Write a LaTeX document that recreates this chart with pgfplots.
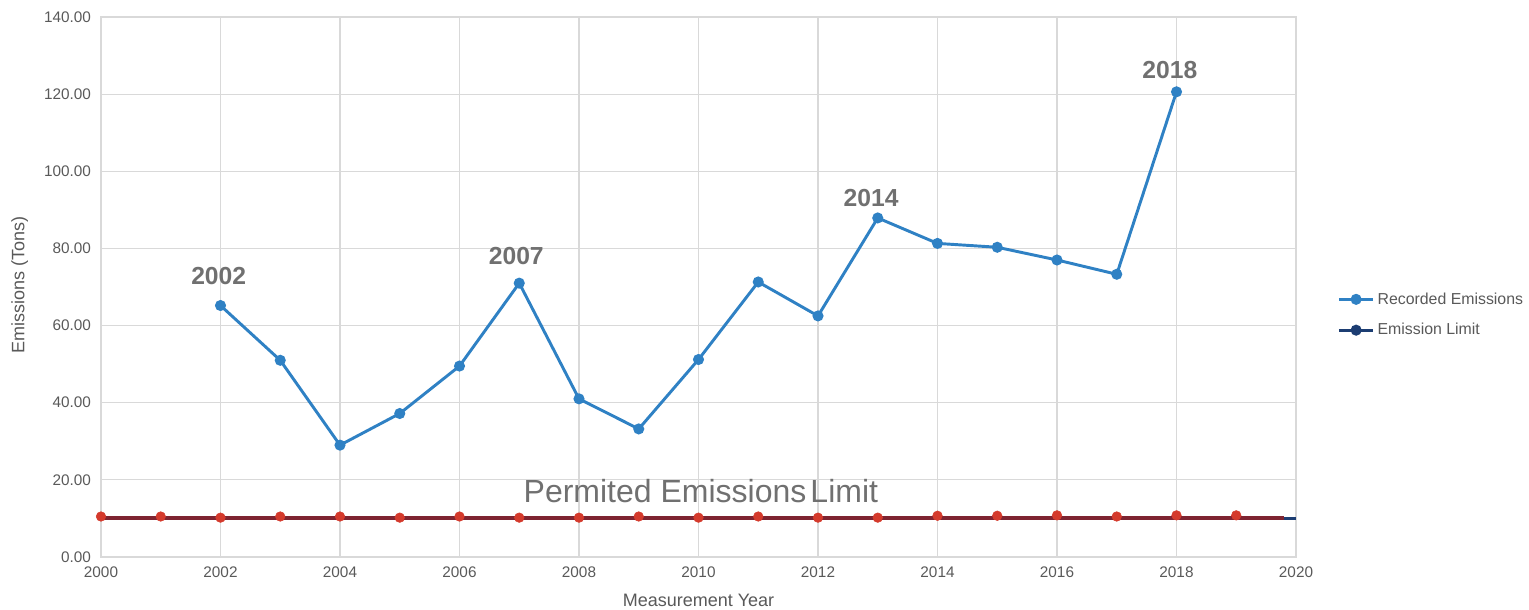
\documentclass[border=0pt]{standalone}
\usepackage{pgfplots}
\pgfplotsset{compat=1.18}
\usepackage{fontspec}
\setmainfont{Liberation Sans}

\definecolor{recblue}{HTML}{2F81C4}
\definecolor{limnavy}{HTML}{1C3D72}
\definecolor{limred}{HTML}{D43A2C}
\definecolor{limdark}{HTML}{7E2431}
\definecolor{gridgray}{HTML}{D9D9D9}
\definecolor{ticktext}{HTML}{595959}
\definecolor{annot}{HTML}{707070}

\begin{document}
\begin{tikzpicture}
% page = 1529 x 610 px at 0.75pt per px, plot area lower left at (0,0)
\useasboundingbox (-75.75pt,-39.75pt) rectangle (1071pt,417.75pt);
\begin{axis}[
    scale only axis,
    width=896.25pt,
    height=405pt,
    xmin=2000, xmax=2020,
    ymin=0, ymax=140,
    xtick={2000,2002,...,2020},
    ytick={0,20,...,140},
    grid=major,
    grid style={gridgray, line width=0.8pt},
    axis line style={gridgray, line width=0.8pt},
    major tick length=0pt,
    /pgf/number format/assume math mode=true,
    tick label style={font=\fontsize{11.5}{13}\selectfont, text=ticktext},
    x tick label style={/pgf/number format/1000 sep={}, yshift=-4pt},
    y tick label style={/pgf/number format/.cd, fixed, fixed zerofill, precision=2,
        assume math mode=true, /tikz/xshift=-4pt},
    xlabel={Measurement Year},
    ylabel={Emissions (Tons)},
    label style={font=\fontsize{13.5}{15}\selectfont, text=ticktext},
    xlabel style={at={(axis description cs:0.5,-0.08)}, anchor=center},
    ylabel style={at={(axis description cs:-0.068,0.504)}, anchor=center},
    legend style={at={(1.031,0.50)}, anchor=north west, draw=none, fill=none,
        font=\fontsize{11.9}{13}\selectfont, text=ticktext, row sep=9pt},
    legend cell align=left,
    legend image code/.code={
        \draw[#1] (0pt,0pt) -- (26pt,0pt);
        \draw[#1, mark repeat=1] plot coordinates {(13pt,0pt)};
    },
]

\addplot[color=recblue, line width=2.2pt, mark=*, mark size=3pt,
    mark options={fill=recblue, draw=recblue}]
    coordinates {
        (2002,65.2)(2003,51.0)(2004,29.0)(2005,37.2)(2006,49.5)(2007,71.0)
        (2008,41.0)(2009,33.2)(2010,51.2)(2011,71.3)(2012,62.5)(2013,87.9)
        (2014,81.3)(2015,80.3)(2016,77.0)(2017,73.3)(2018,120.6)
    };
\addlegendentry{Recorded Emissions}

% emission limit (navy, mostly hidden under the red overlay)
\addplot[forget plot, color=limnavy, line width=2.2pt]
    coordinates {(2000,10)(2020,10)};

% red overlay line and points
\addplot[forget plot, color=limdark, line width=2.8pt]
    coordinates {(2000,10.2)(2019.8,10.2)};
\addplot[forget plot, only marks, mark=*, mark size=3.6pt,
    mark options={fill=limred, draw=limred}]
    coordinates {
        (2000,10.5)(2001,10.5)(2002,10.2)(2003,10.5)(2004,10.5)(2005,10.2)
        (2006,10.5)(2007,10.2)(2008,10.2)(2009,10.5)(2010,10.2)(2011,10.5)
        (2012,10.2)(2013,10.2)(2014,10.7)(2015,10.7)(2016,10.8)(2017,10.5)
        (2018,10.8)(2019,10.8)
    };

\addlegendimage{color=limnavy, line width=2.2pt, mark=*, mark size=3pt,
    mark options={fill=limnavy, draw=limnavy}}
\addlegendentry{Emission Limit}

\node[text=annot, font=\bfseries\fontsize{18.5}{20}\selectfont] at (axis cs:2001.97,72.9) {2002};
\node[text=annot, font=\bfseries\fontsize{18.5}{20}\selectfont] at (axis cs:2006.95,78.0) {2007};
\node[text=annot, font=\bfseries\fontsize{18.5}{20}\selectfont] at (axis cs:2012.89,93.1) {2014};
\node[text=annot, font=\bfseries\fontsize{18.5}{20}\selectfont] at (axis cs:2017.89,126.3) {2018};
\node[text=annot, font=\fontsize{24}{26}\selectfont] at (axis cs:2010.04,17.1) {Permited Emissions\hspace{-0.15em} Limit};

\end{axis}
\end{tikzpicture}
\end{document}
